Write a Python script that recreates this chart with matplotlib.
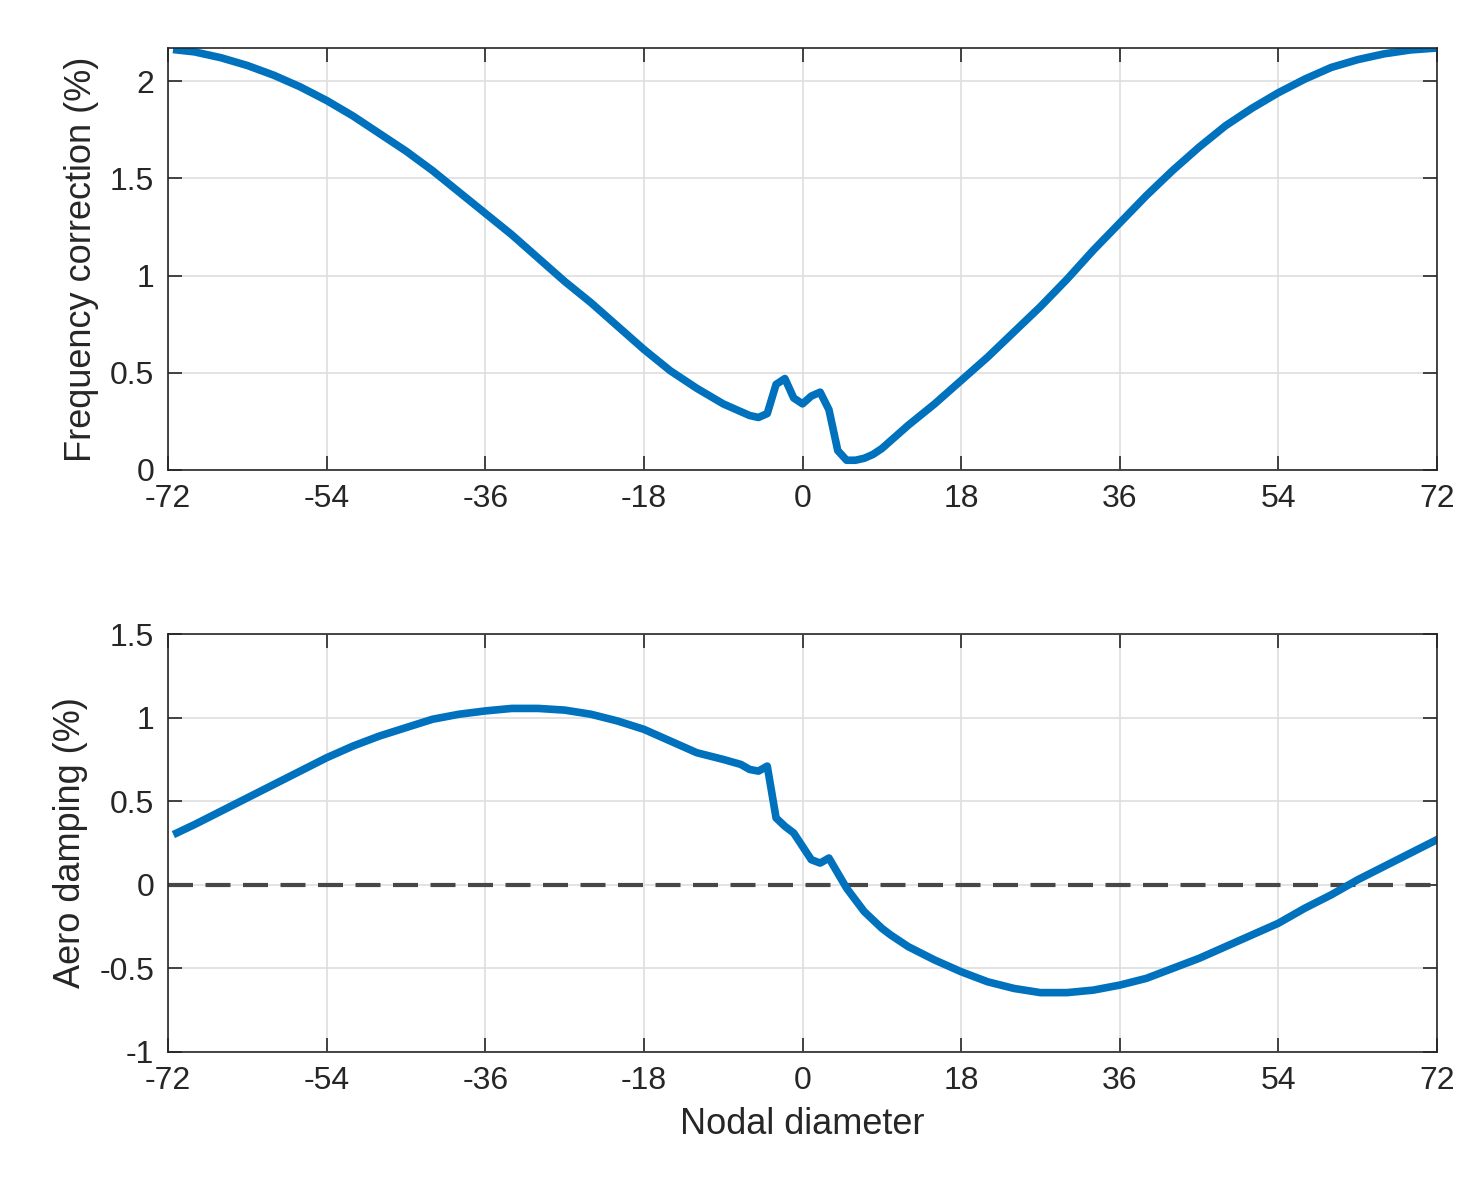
import matplotlib
matplotlib.use("Agg")
import matplotlib.pyplot as plt

plt.rcParams['font.family'] = ['Liberation Sans', 'DejaVu Sans']

nd_top = [-71,-69,-66,-63,-60,-57,-54,-51,-48,-45,-42,-39,-36,-33,-30,-27,-24,-21,-18,-15,-12,-9,-7,-6,-5,-4,-3,-2,-1,0,1,2,3,4,5,6,7,8,9,10,12,15,18,21,24,27,30,33,36,39,42,45,48,51,54,57,60,63,66,69,72]
freq = [2.16,2.15,2.12,2.08,2.03,1.97,1.90,1.82,1.73,1.64,1.54,1.43,1.32,1.21,1.09,0.97,0.86,0.74,0.62,0.51,0.42,0.34,0.30,0.28,0.27,0.29,0.44,0.47,0.37,0.34,0.38,0.40,0.31,0.10,0.05,0.05,0.06,0.08,0.11,0.15,0.23,0.34,0.46,0.58,0.71,0.84,0.98,1.13,1.27,1.41,1.54,1.66,1.77,1.86,1.94,2.01,2.07,2.11,2.14,2.16,2.17]

nd_bot = [-71,-69,-66,-63,-60,-57,-54,-51,-48,-45,-42,-39,-36,-33,-30,-27,-24,-21,-18,-15,-12,-9,-7,-6,-5,-4,-3,-2,-1,0,1,2,3,4,5,6,7,8,9,10,12,15,18,21,24,27,30,33,36,39,42,45,48,51,54,57,60,63,66,69,72]
damp = [0.31,0.36,0.44,0.52,0.60,0.68,0.76,0.83,0.89,0.94,0.99,1.02,1.04,1.055,1.055,1.045,1.02,0.98,0.93,0.86,0.79,0.75,0.72,0.69,0.68,0.71,0.40,0.35,0.31,0.23,0.15,0.13,0.16,0.07,-0.02,-0.09,-0.16,-0.21,-0.26,-0.30,-0.37,-0.45,-0.52,-0.58,-0.62,-0.645,-0.645,-0.63,-0.60,-0.56,-0.50,-0.44,-0.37,-0.30,-0.23,-0.14,-0.06,0.03,0.11,0.19,0.27]

xticks = [-72,-54,-36,-18,0,18,36,54,72]
blue = '#0072BD'

fig = plt.figure(figsize=(14.79, 11.82), dpi=100)
ax1 = fig.add_axes([0.1136, 0.6024, 0.858, 0.357])
ax2 = fig.add_axes([0.1136, 0.110, 0.858, 0.3536])

for ax in (ax1, ax2):
    ax.set_xlim(-72, 72)
    ax.set_xticks(xticks)
    ax.set_xticklabels([str(t) for t in xticks])
    ax.grid(True, color='#dedede', linewidth=1.2)
    ax.set_axisbelow(True)
    ax.tick_params(direction='in', length=10, width=1.2, labelsize=23, colors='#262626', top=True, right=True, pad=10)
    for s in ax.spines.values():
        s.set_color('#262626'); s.set_linewidth(1.2)

ax1.plot(nd_top, freq, color=blue, linewidth=5.5, solid_joinstyle='round')
ax1.set_ylim(0, 2.17)
ax1.set_yticks([0, 0.5, 1, 1.5, 2])
ax1.set_yticklabels(['0', '0.5', '1', '1.5', '2'])
ax1.set_ylabel('Frequency correction (%)', fontsize=26, color='#262626', labelpad=8)

ax2.axhline(0, color='#474747', linewidth=3, dashes=(6, 3))
ax2.plot(nd_bot, damp, color=blue, linewidth=5.5, solid_joinstyle='round')
ax2.set_ylim(-1, 1.5)
ax2.set_yticks([-1, -0.5, 0, 0.5, 1, 1.5])
ax2.set_yticklabels(['-1', '-0.5', '0', '0.5', '1', '1.5'])
ax2.set_ylabel('Aero damping (%)', fontsize=26, color='#262626', labelpad=8)
ax2.set_xlabel('Nodal diameter', fontsize=26, color='#262626', labelpad=8)

fig.savefig('out.png', dpi=100)
